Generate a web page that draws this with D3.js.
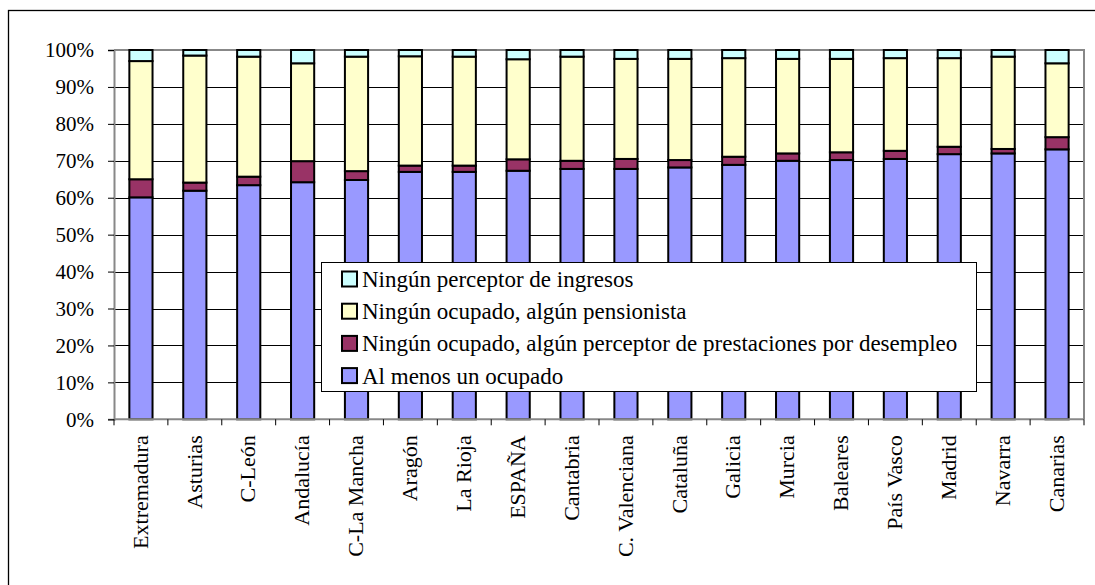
<!DOCTYPE html>
<html>
<head>
<meta charset="utf-8">
<script src="https://cdn.jsdelivr.net/npm/d3@7"></script>
<style>
  html, body { margin: 0; padding: 0; background: #fff; }
  svg { display: block; }
  svg text { font-family: 'Liberation Serif', Tinos, 'Times New Roman', Times, 'DejaVu Serif', serif; fill: #000; }
</style>
</head>
<body>
<svg id="chart" width="1095" height="585"></svg>
<script>
// Regiones ordenadas por el peso de hogares con al menos un ocupado
const regiones = ["Extremadura", "Asturias", "C-León", "Andalucía", "C-La Mancha", "Aragón",
  "La Rioja", "ESPAÑA", "Cantabria", "C. Valenciana", "Cataluña", "Galicia", "Murcia",
  "Baleares", "País Vasco", "Madrid", "Navarra", "Canarias"];

// Porcentaje de hogares de cada tipo (%)
const alMenosUnOcupado = [60.1, 61.9, 63.4, 64.2, 64.8, 67.0, 67.0, 67.3, 67.8, 67.8, 68.2, 68.9, 70.0, 70.2, 70.5, 71.8, 72.0, 73.1];
const prestacionesDesempleo = [4.9, 2.2, 2.3, 5.7, 2.4, 1.7, 1.7, 3.1, 2.2, 2.7, 2.0, 2.2, 2.0, 2.1, 2.2, 2.0, 1.2, 3.3];
const pensionista = [32.0, 34.4, 32.5, 26.5, 31.0, 29.6, 29.5, 27.1, 28.2, 27.1, 27.4, 26.7, 25.6, 25.3, 25.1, 24.0, 25.0, 20.0];
const sinIngresos = [3.0, 1.5, 1.8, 3.6, 1.8, 1.7, 1.8, 2.5, 1.8, 2.4, 2.4, 2.2, 2.4, 2.4, 2.2, 2.2, 1.8, 3.6];

const series = [
  { key: "ocupado", label: "Al menos un ocupado", color: "#9999FF", values: alMenosUnOcupado },
  { key: "desempleo", label: "Ningún ocupado, algún perceptor de prestaciones por desempleo", color: "#993366", values: prestacionesDesempleo },
  { key: "pension", label: "Ningún ocupado, algún pensionista", color: "#FFFFCC", values: pensionista },
  { key: "sin", label: "Ningún perceptor de ingresos", color: "#CCFFFF", values: sinIngresos }
];

const yTicks = [0, 0.1, 0.2, 0.3, 0.4, 0.5, 0.6, 0.7, 0.8, 0.9, 1.0];

const FONT = "'Liberation Serif', Tinos, 'Times New Roman', Times, 'DejaVu Serif', serif";

// Tabla por región para el apilado
const rows = regiones.map((r, i) => {
  const o = { region: r };
  series.forEach(s => { o[s.key] = s.values[i]; });
  return o;
});

const svg = d3.select("#chart");
const plot = { left: 114, right: 1084, top: 50, bottom: 419.3 };

const x = d3.scaleBand().domain(regiones).range([plot.left, plot.right]).padding(0);
const y = d3.scaleLinear().domain([0, 1]).range([plot.bottom, plot.top]);
const barW = x.bandwidth() * 0.43;

const stack = d3.stack().keys(series.map(s => s.key)).offset(d3.stackOffsetExpand);
const layers = stack(rows);

// Marco exterior
svg.append("rect")
  .attr("x", 8.5).attr("y", 10.5)
  .attr("width", 1100).attr("height", 600)
  .attr("fill", "#fff").attr("stroke", "#000").attr("stroke-width", 1.3);

// Líneas de cuadrícula
svg.append("g")
  .selectAll("line")
  .data(yTicks.filter(t => t > 0 && t < 1))
  .join("line")
  .attr("x1", plot.left).attr("x2", plot.right)
  .attr("y1", d => Math.round(y(d)) + 0.5).attr("y2", d => Math.round(y(d)) + 0.5)
  .attr("stroke", "#000").attr("stroke-width", 1);

// Borde superior y derecho del área de trazado
svg.append("path")
  .attr("d", `M${plot.left},${plot.top}H${plot.right}V${plot.bottom}`)
  .attr("fill", "none").attr("stroke", "#888").attr("stroke-width", 2);

// Barras apiladas al 100%
const colorOf = Object.fromEntries(series.map(s => [s.key, s.color]));
svg.append("g")
  .selectAll("g")
  .data(layers)
  .join("g")
  .attr("fill", d => colorOf[d.key])
  .selectAll("rect")
  .data(d => d)
  .join("rect")
  .attr("x", d => x(d.data.region) + (x.bandwidth() - barW) / 2)
  .attr("y", d => y(d[1]))
  .attr("width", barW)
  .attr("height", d => y(d[0]) - y(d[1]))
  .attr("stroke", "#000")
  .attr("stroke-width", 2);

// Eje Y
const yAxis = d3.axisLeft(y)
  .tickValues(yTicks)
  .tickFormat(d3.format(".0%"))
  .tickSize(6)
  .tickPadding(14);
const gy = svg.append("g").attr("transform", `translate(${plot.left},0)`).call(yAxis)
  .attr("font-family", FONT).attr("font-size", 21);
gy.select(".domain").attr("stroke", "#888").attr("stroke-width", 2);
gy.selectAll(".tick line").attr("stroke", "#000").attr("stroke-width", 1);
gy.selectAll(".tick text")
  .style("font-family", FONT)
  .style("font-size", "21px")
  .attr("fill", "#000");

// Eje X con marcas entre categorías
const gx = svg.append("g").attr("transform", `translate(0,${plot.bottom})`);
gx.append("line")
  .attr("x1", plot.left).attr("x2", plot.right)
  .attr("stroke", "#888").attr("stroke-width", 2);
const bounds = regiones.map(r => x(r)).concat([x(regiones[regiones.length - 1]) + x.bandwidth()]);
gx.selectAll("line.sep")
  .data(bounds)
  .join("line")
  .attr("class", "sep")
  .attr("x1", d => d).attr("x2", d => d)
  .attr("y1", 0).attr("y2", 6)
  .attr("stroke", "#000").attr("stroke-width", 1);
gx.selectAll("text")
  .data(regiones)
  .join("text")
  .attr("transform", d => `translate(${x(d) + x.bandwidth() / 2 - 1},16) rotate(-90)`)
  .attr("text-anchor", "end")
  .attr("dy", "0.35em")
  .style("font-family", FONT)
  .style("font-size", "22px")
  .text(d => d);

// Leyenda
const legend = svg.append("g");
legend.append("rect")
  .attr("x", 321.5).attr("y", 262.5)
  .attr("width", 655).attr("height", 129)
  .attr("fill", "#fff").attr("stroke", "#000").attr("stroke-width", 1);
const legendItems = series.slice().reverse();
const li = legend.selectAll("g.item")
  .data(legendItems)
  .join("g")
  .attr("class", "item")
  .attr("transform", (d, i) => `translate(342,${279 + i * 32.2})`);
li.append("rect")
  .attr("x", 0).attr("y", -7.5)
  .attr("width", 15).attr("height", 15)
  .attr("fill", d => d.color)
  .attr("stroke", "#000").attr("stroke-width", 2);
li.append("text")
  .attr("x", 20).attr("y", 0)
  .attr("dy", "0.35em")
  .style("font-family", FONT)
  .style("font-size", "23px")
  .text(d => d.label);
</script>
</body>
</html>
